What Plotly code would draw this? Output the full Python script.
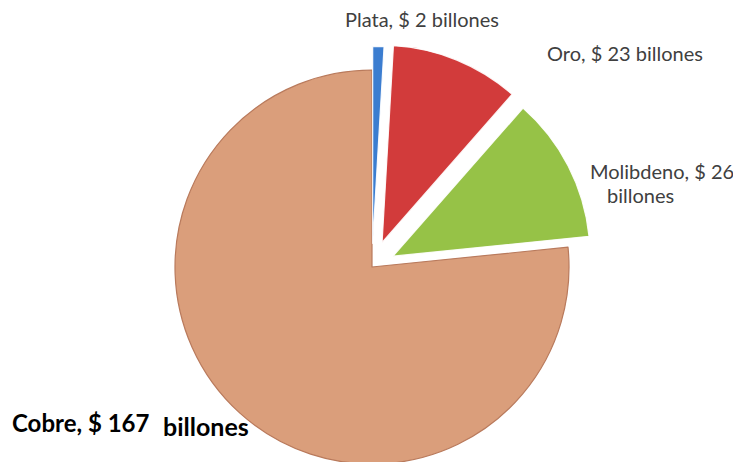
import math
import plotly.graph_objects as go

# ---- data ----
labels = ["Plata", "Oro", "Molibdeno", "Cobre"]
values = [2, 23, 26, 167]
colors = ["#3B7DD0", "#D23B3B", "#96C247", "#DA9E7B"]
edge_colors = ["rgba(255,255,255,0.9)", "rgba(255,255,255,0.9)",
               "rgba(255,255,255,0.9)", "#B97A5C"]
pulls = [0.12, 0.135, 0.12, 0.0]
label_lines = [
    ["Plata, $ 2 billones"],
    ["Oro, $ 23 billones"],
    ["Molibdeno, $ 26", "billones"],
    ["Cobre, $ 167", "billones"],
]

# ---- layout constants ----
W, H = 741, 462
OFF = 8              # page offset of the plot div (body margin)
CX, CY, R = 372 - OFF, 267 - OFF, 197
ROT = 0

total = sum(values)
n = len(values)
fig = go.Figure()

# each slice in its own trace so that pulled slices keep the full radius
order = [3, 0, 1, 2]
cum_before = [sum(values[:i]) for i in range(n)]
for i in order:
    v = values[i]
    mid = ROT + 360.0 * (cum_before[i] + v / 2.0) / total
    d = pulls[i] * R
    cx = CX + d * math.sin(math.radians(mid))
    cy = CY - d * math.cos(math.radians(mid))
    x0, x1 = max(0.0, (cx - R) / W), min(1.0, (cx + R) / W)
    y0, y1 = max(0.0, 1 - (cy + R) / H), min(1.0, 1 - (cy - R) / H)
    slice_colors = [colors[j] if j == i else "rgba(0,0,0,0)" for j in range(n)]
    line_w = [1.2 if j == i else 0 for j in range(n)]
    fig.add_trace(go.Pie(
        labels=labels,
        values=values,
        sort=False,
        direction="clockwise",
        rotation=ROT,
        marker=dict(colors=slice_colors,
                    line=dict(color=edge_colors, width=line_w)),
        textinfo="none",
        hoverinfo="label+value",
        domain=dict(x=[x0, x1], y=[y0, y1]),
        showlegend=False,
    ))

FONT = "Lato"
normal = dict(family=FONT, size=20, color="#404040")
bold = dict(family=FONT, size=24, color="#000000", weight="bold")
bold2 = dict(family=FONT, size=25, color="#000000", weight="bold")

# (text, left x on page, middle y on page, font)
ann_specs = [
    (label_lines[0][0], 345, 19, normal),
    (label_lines[1][0], 547, 53, normal),
    (label_lines[2][0], 590, 171, normal),
    (label_lines[2][1], 607, 195, normal),
    (label_lines[3][0], 12, 422, bold),
    (label_lines[3][1], 163, 426, bold2),
]
annotations = []
for text, px, py, f in ann_specs:
    annotations.append(dict(
        text=text, x=(px - OFF - 2) / W, y=1 - (py - OFF) / H,
        xref="paper", yref="paper",
        xanchor="left", yanchor="middle", showarrow=False, font=f,
    ))

fig.update_layout(
    width=W, height=H,
    margin=dict(l=0, r=0, t=0, b=0),
    paper_bgcolor="white",
    plot_bgcolor="white",
    annotations=annotations,
    showlegend=False,
)

fig.write_html("out.html")
